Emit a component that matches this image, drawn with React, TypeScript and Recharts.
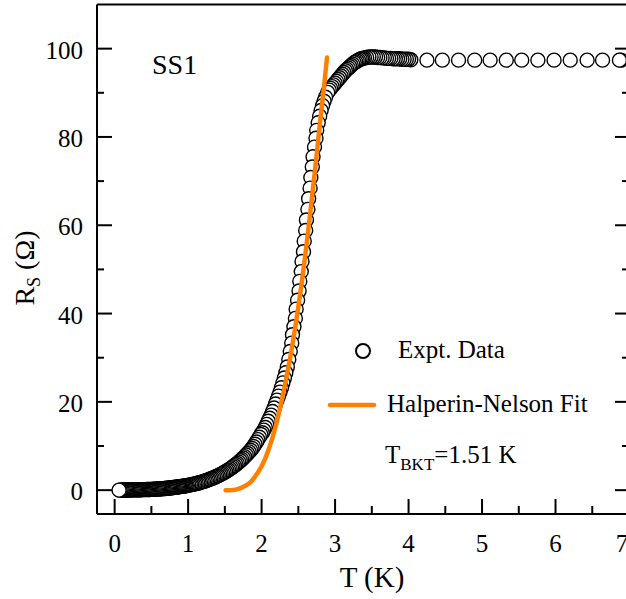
import { ComposedChart, Scatter, XAxis, YAxis } from 'recharts'

const FONT = '"Liberation Serif", "Times New Roman", serif'
const ORANGE = '#ff7f00'

// Expt. data: T in K, R_s in Ohm
const dataT = [
  0.06, 0.075, 0.09, 0.105, 0.12, 0.135, 0.15, 0.165, 0.18, 0.195, 0.21, 0.225, 0.24, 0.255, 0.27,
  0.285, 0.3, 0.315, 0.33, 0.345, 0.36, 0.375, 0.39, 0.405, 0.42, 0.435, 0.45, 0.465, 0.48, 0.495,
  0.51, 0.525, 0.54, 0.555, 0.57, 0.585, 0.6, 0.615, 0.63, 0.645, 0.66, 0.675, 0.69, 0.705, 0.72,
  0.735, 0.75, 0.765, 0.78, 0.795, 0.81, 0.825, 0.84, 0.855, 0.87, 0.885, 0.9, 0.915, 0.93, 0.945,
  0.96, 0.975, 0.99,
  1.01, 1.03, 1.05, 1.07, 1.09, 1.11, 1.13, 1.15, 1.17, 1.19, 1.21, 1.23, 1.25, 1.27, 1.29,
  1.31, 1.33, 1.35, 1.37, 1.39, 1.41, 1.43, 1.45, 1.47, 1.49, 1.51, 1.53, 1.55, 1.57, 1.59,
  1.61, 1.63, 1.65, 1.67, 1.69, 1.71, 1.73, 1.75, 1.77, 1.79, 1.81, 1.83, 1.85, 1.87, 1.89,
  1.91, 1.93, 1.95, 1.97, 1.99,
  2.01, 2.03, 2.05, 2.07, 2.09, 2.11, 2.13, 2.15, 2.17, 2.19, 2.21, 2.23, 2.25, 2.27, 2.29,
  2.31, 2.33, 2.35,
  2.37, 2.39, 2.41, 2.42, 2.44, 2.46, 2.47, 2.49, 2.51, 2.52, 2.54, 2.55, 2.57, 2.58, 2.6,
  2.61, 2.63, 2.64, 2.66, 2.67, 2.69, 2.7, 2.72, 2.74, 2.75, 2.77, 2.79, 2.81, 2.83, 2.85,
  2.87,
  2.9, 2.92, 2.94, 2.96, 2.98, 3.0, 3.02, 3.04, 3.06, 3.08, 3.1, 3.12, 3.14, 3.16, 3.18,
  3.2, 3.22, 3.24, 3.26, 3.28, 3.3, 3.32, 3.34, 3.36, 3.38, 3.4, 3.43, 3.46, 3.49, 3.52,
  3.55, 3.58, 3.61, 3.64, 3.67, 3.7, 3.73, 3.76, 3.79, 3.82, 3.85, 3.88, 3.91, 3.94, 3.97,
  4.0, 4.03,
  4.25, 4.46, 4.68, 4.9, 5.11, 5.33, 5.54, 5.76, 5.98, 6.2, 6.43, 6.64, 6.87, 6.89,
]
const dataR = [
  0, 0, 0.01, 0.01, 0.02, 0.02, 0.03, 0.03, 0.04, 0.05, 0.05, 0.06, 0.06, 0.07, 0.07,
  0.08, 0.08, 0.09, 0.09, 0.1, 0.1, 0.11, 0.12, 0.12, 0.13, 0.14, 0.15, 0.15, 0.16, 0.17,
  0.18, 0.2, 0.21, 0.22, 0.23, 0.25, 0.26, 0.28, 0.3, 0.32, 0.34, 0.37, 0.39, 0.42, 0.44,
  0.47, 0.5, 0.53, 0.56, 0.59, 0.62, 0.65, 0.69, 0.72, 0.76, 0.79, 0.82, 0.86, 0.9, 0.94,
  0.98, 1.02, 1.06,
  1.13, 1.19, 1.26, 1.33, 1.42, 1.5, 1.58, 1.67, 1.77, 1.88, 1.98, 2.09, 2.2, 2.32, 2.45,
  2.58, 2.71, 2.85, 2.99, 3.14, 3.3, 3.46, 3.63, 3.81, 4.0, 4.2, 4.4, 4.6, 4.82, 5.05,
  5.3, 5.55, 5.8, 6.07, 6.35, 6.65, 6.95, 7.27, 7.6, 7.95, 8.3, 8.68, 9.05, 9.45, 9.9,
  10.4, 10.9, 11.45, 12.0, 12.6,
  13.0, 13.6, 14.2, 14.9, 15.6, 16.3, 17.0, 17.8, 18.6, 19.5, 20.4, 21.3, 22.2, 23.2, 24.3,
  25.4, 26.6, 27.9,
  29.6, 31.4, 33.3, 35.2, 37.0, 38.9, 41.0, 43.0, 45.1, 47.3, 49.5, 51.8, 54.0, 56.4, 58.8,
  61.2, 63.6, 66.0, 68.4, 70.8, 73.2, 75.5, 77.7, 79.7, 81.5, 83.2, 84.7, 86.0, 87.1, 88.1,
  89.0,
  90.1, 90.6, 91.0, 91.4, 91.8, 92.2, 92.6, 93.0, 93.4, 93.8, 94.2, 94.6, 95.0, 95.3, 95.6,
  95.9, 96.2, 96.5, 96.8, 97.0, 97.2, 97.4, 97.6, 97.7, 97.8, 97.9, 98.0, 98.1, 98.1, 98.1,
  98.1, 98.0, 98.0, 97.9, 97.9, 97.8, 97.8, 97.8, 97.7, 97.7, 97.7, 97.7, 97.6, 97.6, 97.6,
  97.6, 97.5,
  97.4, 97.4, 97.4, 97.4, 97.4, 97.4, 97.4, 97.4, 97.4, 97.4, 97.4, 97.4, 97.4, 97.4,
]

// Halperin-Nelson fit curve
const fitT = [
  1.51, 1.56, 1.6, 1.63, 1.66, 1.69, 1.72, 1.75, 1.78, 1.81, 1.85, 1.9, 1.95, 2.0, 2.05,
  2.1, 2.15, 2.2, 2.25, 2.3, 2.35, 2.4, 2.45, 2.5, 2.55, 2.6, 2.65, 2.7, 2.75, 2.8, 2.85, 2.89,
]
const fitR = [
  0, 0, 0.02, 0.08, 0.18, 0.33, 0.52, 0.75, 1.0, 1.3, 1.8, 2.8, 4.0, 5.4, 7.2,
  9.4, 12.0, 15.0, 18.5, 22.3, 26.5, 31.0, 36.0, 41.5, 47.5, 54.0, 61.0, 68.5, 76.0, 84.0, 91.5, 98.0,
]

const xTicks = [0, 0.5, 1, 1.5, 2, 2.5, 3, 3.5, 4, 4.5, 5, 5.5, 6, 6.5, 7]
const yTicks = [0, 10, 20, 30, 40, 50, 60, 70, 80, 90, 100]
const xDomain = [-0.24, 7]
const yDomain = [-5.4, 110]

// drawn high T first so the low-T points end up on top, like the original
const points = dataT.map((T, i) => ({ T, R: dataR[i] })).reverse()
const fit = fitT.map((T, i) => ({ T, R: fitR[i] }))

const tickText = { fontFamily: FONT, fontSize: 25, fill: '#000' } as const

function BottomTick({ x, y, payload }: any) {
  const major = Number.isInteger(payload.value)
  // the last label sits a bit left in the original (it is cut by the frame)
  const lx = payload.value === 7 ? x - 7 : x
  return (
    <g>
      <line x1={x} x2={x} y1={y} y2={y - (major ? 15 : 8)} stroke="#000" strokeWidth={2} />
      {major && (
        <text x={lx} y={y + 38} textAnchor="middle" {...tickText}>
          {payload.value}
        </text>
      )}
    </g>
  )
}

function TopTick({ x, y, payload }: any) {
  const major = Number.isInteger(payload.value)
  return <line x1={x} x2={x} y1={y} y2={y + (major ? 14 : 7)} stroke="#000" strokeWidth={2} />
}

function LeftTick({ x, y, payload }: any) {
  const major = payload.value % 20 === 0
  return (
    <g>
      <line x1={x} x2={x + (major ? 15 : 7)} y1={y} y2={y} stroke="#000" strokeWidth={2} />
      {major && (
        <text x={x - 14} y={y + 10} textAnchor="end" {...tickText}>
          {payload.value}
        </text>
      )}
    </g>
  )
}

function RightTick({ x, y, payload }: any) {
  const major = payload.value % 20 === 0
  return <line x1={x} x2={x - (major ? 14 : 7)} y1={y} y2={y} stroke="#000" strokeWidth={2} />
}

function OpenCircle(props: any) {
  return <circle cx={props.cx} cy={props.cy} r={7} fill="#fff" stroke="#000" strokeWidth={1.4} />
}

function NoMark() {
  return <g />
}

export default function App() {
  return (
    <div
      style={{
        position: 'fixed',
        left: 0,
        top: 0,
        width: 626,
        height: 599,
        overflow: 'hidden',
        background: '#fff',
      }}
    >
      <ComposedChart width={660} height={599} margin={{ top: 3.5, right: 30, bottom: 0, left: 0 }}>
        <XAxis
          dataKey="T"
          type="number"
          domain={xDomain}
          ticks={xTicks}
          interval={0}
          allowDataOverflow
          height={85}
          tickSize={0}
          tickMargin={0}
          tickLine={false}
          tick={<BottomTick />}
          axisLine={{ stroke: '#000', strokeWidth: 2 }}
        />
        <XAxis
          xAxisId="top"
          orientation="top"
          type="number"
          domain={xDomain}
          ticks={xTicks}
          interval={0}
          allowDataOverflow
          height={1}
          tickSize={0}
          tickMargin={0}
          tickLine={false}
          tick={<TopTick />}
          axisLine={{ stroke: '#000', strokeWidth: 2 }}
        />
        <YAxis
          dataKey="R"
          type="number"
          domain={yDomain}
          ticks={yTicks}
          interval={0}
          allowDataOverflow
          width={97}
          tickSize={0}
          tickMargin={0}
          tickLine={false}
          tick={<LeftTick />}
          axisLine={{ stroke: '#000', strokeWidth: 2 }}
        />
        <YAxis
          yAxisId="right"
          orientation="right"
          type="number"
          domain={yDomain}
          ticks={yTicks}
          interval={0}
          allowDataOverflow
          width={1}
          tickSize={0}
          tickMargin={0}
          tickLine={false}
          tick={<RightTick />}
          axisLine={{ stroke: '#000', strokeWidth: 2 }}
        />
        <Scatter data={points} dataKey="R" shape={<OpenCircle />} isAnimationActive={false} />
        {/* fit drawn as a second scatter so it sits above the open circles */}
        <Scatter
          data={fit}
          dataKey="R"
          shape={<NoMark />}
          line={{ stroke: ORANGE, strokeWidth: 4.5, strokeLinecap: 'round', strokeLinejoin: 'round' }}
          lineType="joint"
          isAnimationActive={false}
        />
      </ComposedChart>
      <svg
        width={626}
        height={599}
        style={{ position: 'absolute', left: 0, top: 0, pointerEvents: 'none' }}
        fontFamily={FONT}
      >
        <text x={152} y={73.5} fontSize={28}>SS1</text>
        <text x={372} y={587} fontSize={29} textAnchor="middle">T (K)</text>
        <text transform="translate(33.5,268) rotate(-90)" textAnchor="middle" fontSize={28}>
          R<tspan fontSize={18} dy={6}>S</tspan>
          <tspan dy={-6}> (Ω)</tspan>
        </text>
        <circle cx={363} cy={351} r={7} fill="#fff" stroke="#000" strokeWidth={2} />
        <text x={398} y={358} fontSize={25}>Expt. Data</text>
        <line x1={330} x2={374} y1={405} y2={405} stroke={ORANGE} strokeWidth={4.5} strokeLinecap="round" />
        <text x={387} y={412} fontSize={25}>Halperin-Nelson Fit</text>
        <text x={385} y={463} fontSize={25}>
          T<tspan fontSize={17} dy={7}>BKT</tspan>
          <tspan dy={-7}>=1.51 K</tspan>
        </text>
      </svg>
    </div>
  )
}
